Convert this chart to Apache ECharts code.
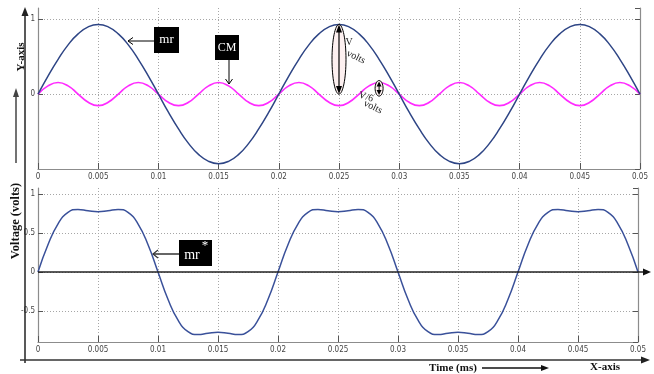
<!DOCTYPE html>
<html><head><meta charset="utf-8">
<script src="https://cdn.jsdelivr.net/npm/echarts@6/dist/echarts.min.js"></script>
<style>html,body{margin:0;padding:0;background:#fff}#c{width:654px;height:374px}</style>
</head><body><div id="c"></div>
<script>
// sample times (s) read along the x axis
const times = [0,0.00083,0.00167,0.0025,0.00333,0.00417,0.005,0.00583,0.00667,0.0075,0.00833,0.00917,
0.01,0.01083,0.01167,0.0125,0.01333,0.01417,0.015,0.01583,0.01667,0.0175,0.01833,0.01917,
0.02,0.02083,0.02167,0.0225,0.02333,0.02417,0.025,0.02583,0.02667,0.0275,0.02833,0.02917,
0.03,0.03083,0.03167,0.0325,0.03333,0.03417,0.035,0.03583,0.03667,0.0375,0.03833,0.03917,
0.04,0.04083,0.04167,0.0425,0.04333,0.04417,0.045,0.04583,0.04667,0.0475,0.04833,0.04917,0.05];
// top: modulating reference "mr"
const mr = [0,0.241,0.465,0.658,0.805,0.898,0.93,0.898,0.805,0.658,0.465,0.241,
0,-0.241,-0.465,-0.658,-0.805,-0.898,-0.93,-0.898,-0.805,-0.658,-0.465,-0.241,
0,0.241,0.465,0.658,0.805,0.898,0.93,0.898,0.805,0.658,0.465,0.241,
0,-0.241,-0.465,-0.658,-0.805,-0.898,-0.93,-0.898,-0.805,-0.658,-0.465,-0.241,
0,0.241,0.465,0.658,0.805,0.898,0.93,0.898,0.805,0.658,0.465,0.241,0];
// top: common-mode "CM"
const cm = [0,0.11,0.155,0.11,0,-0.11,-0.155,-0.11,
0,0.11,0.155,0.11,0,-0.11,-0.155,-0.11,
0,0.11,0.155,0.11,0,-0.11,-0.155,-0.11,
0,0.11,0.155,0.11,0,-0.11,-0.155,-0.11,
0,0.11,0.155,0.11,0,-0.11,-0.155,-0.11,
0,0.11,0.155,0.11,0,-0.11,-0.155,-0.11,
0,0.11,0.155,0.11,0,-0.11,-0.155,-0.11,
0,0.11,0.155,0.11,0];
// bottom: "mr*"
const mrStar = [0,0.351,0.62,0.768,0.805,0.788,0.775,0.788,0.805,0.768,0.62,0.351,
0,-0.351,-0.62,-0.768,-0.805,-0.788,-0.775,-0.788,-0.805,-0.768,-0.62,-0.351,
0,0.351,0.62,0.768,0.805,0.788,0.775,0.788,0.805,0.768,0.62,0.351,
0,-0.351,-0.62,-0.768,-0.805,-0.788,-0.775,-0.788,-0.805,-0.768,-0.62,-0.351,
0,0.351,0.62,0.768,0.805,0.788,0.775,0.788,0.805,0.768,0.62,0.351,0];
const topYTicks = [-1, 0, 1];
const bottomYTicks = [-0.5, 0, 0.5, 1];

const tickFont = "'Liberation Sans Narrow','DejaVu Sans Condensed',sans-serif";
const serif = "'Liberation Serif','DejaVu Serif',serif";
const gridStyle = {color:'#a6a6a6', type:[1,2], width:1};

function xAx(g){
  return {type:'value', gridIndex:g, min:0, max:0.05, interval:0.005, position:'bottom',
    axisLine:{onZero:false, lineStyle:{color:'#8c8c8c', width:1.2}},
    axisTick:{inside:true, length:6, lineStyle:{color:'#555'}},
    axisLabel:{fontSize:8, color:'#444', fontFamily:tickFont, margin:4},
    splitLine:{show:true, showMinLine:false, showMaxLine:false, lineStyle:gridStyle}};
}
function yAx(g, min, max, ticks, extra){
  return Object.assign({type:'value', gridIndex:g, min:min, max:max, position:'left',
    axisLine:{show:true, onZero:false, lineStyle:{color:'#8c8c8c', width:1.2}},
    axisTick:{show:true, inside:true, length:5, lineStyle:{color:'#555'}},
    axisLabel:{fontSize:8, color:'#444', fontFamily:tickFont, margin:3, showMinLabel:false, showMaxLabel:false,
      formatter: v => ticks.some(t => Math.abs(t - v) < 1e-9) ? String(v) : ''},
    splitLine:{show:true, showMinLine:false, showMaxLine:false, lineStyle:gridStyle}}, extra||{});
}
function yRight(g, min, max, extra){
  return Object.assign({type:'value', gridIndex:g, min:min, max:max, position:'right',
    axisLine:{show:true, onZero:false, lineStyle:{color:'#8c8c8c', width:1.2}},
    axisTick:{show:true, inside:true, length:5, lineStyle:{color:'#555'}},
    axisLabel:{show:false}, splitLine:{show:false}}, extra||{});
}

const chart = echarts.init(document.getElementById('c'), null, {renderer:'canvas'});
chart.setOption({
  backgroundColor:'#fff',
  animation:false,
  grid:[{left:38, right:14, top:8, height:161}, {left:38, right:16, top:188, height:154}],
  xAxis:[xAx(0), xAx(1)],
  yAxis:[
    yAx(0, -1, 1.15, topYTicks, {interval:1}),
    yRight(0, -1, 1.15, {interval:1}),
    yAx(1, -0.9, 1.08, bottomYTicks, {splitNumber:4}),
    yRight(1, -0.9, 1.08, {splitNumber:4})
  ],
  series:[
    {type:'line', xAxisIndex:0, yAxisIndex:0, data: times.map((t,i)=>[t, cm[i]]), smooth:true, symbol:'none',
      lineStyle:{color:'#ff2bff', width:1.7}, z:2},
    {type:'line', xAxisIndex:0, yAxisIndex:0, data: times.map((t,i)=>[t, mr[i]]), smooth:true, symbol:'none',
      lineStyle:{color:'#2e4585', width:1.5}, z:3},
    {type:'line', xAxisIndex:1, yAxisIndex:2, data: times.map((t,i)=>[t, mrStar[i]]), smooth:true, symbol:'none',
      lineStyle:{color:'#3a519a', width:1.5}, z:3}
  ]
});

function P(g, x, y){ return chart.convertToPixel(g===0?{xAxisIndex:0,yAxisIndex:0}:{xAxisIndex:1,yAxisIndex:2}, [x,y]); }
const G = [];
function line(x1,y1,x2,y2,c,w){ G.push({type:'line', z:10, shape:{x1,y1,x2,y2}, style:{stroke:c||'#000', lineWidth:w||1}}); }
function tri(pts,c){ G.push({type:'polygon', z:11, shape:{points:pts}, style:{fill:c||'#000'}}); }
function open(pts,c,w){ G.push({type:'polyline', z:11, shape:{points:pts}, style:{stroke:c||'#000', fill:null, lineWidth:w||1}}); }
function txt(x,y,s,font,fill,rot,align){ G.push({type:'text', z:12, x:x, y:y, rotation:rot||0,
  style:{text:s, font:font, fill:fill||'#000', textAlign:align||'center', textVerticalAlign:'middle'}}); }

// outer axes
line(25, 363, 25, 14, '#222', 1.5); tri([[25,7],[21.5,16],[28.5,16]], '#222');
line(20, 360, 642, 360, '#333', 1.5); tri([[650,360],[641,356.5],[641,363.5]], '#222');
line(16, 163, 16, 96, '#444', 1.5); tri([[16,88],[13,97],[19,97]], '#444');
txt(21, 57, 'Y-axis', 'bold 11px '+serif, '#111', Math.PI/2);
txt(16, 221, 'Voltage (volts)', 'bold 12.5px '+serif, '#111', Math.PI/2);
txt(453, 368, 'Time (ms)', 'bold 11px '+serif, '#111');
line(482, 368, 542, 368, '#111', 1.3); tri([[549,368],[541,365],[541,371]], '#111');
txt(605, 367, 'X-axis', 'bold 11px '+serif, '#111');

// zero line of bottom plot
const z0 = P(1, 0, 0);
line(z0[0], z0[1], 643, z0[1], '#222', 1.5); tri([[651,z0[1]],[643,z0[1]-3.5],[643,z0[1]+3.5]], '#111');

// V volts ellipse
const a0 = P(0, 0.025, 0), a1 = P(0, 0.025, 0.93);
G.push({type:'ellipse', z:9, shape:{cx:a0[0], cy:(a0[1]+a1[1])/2, rx:7, ry:(a0[1]-a1[1])/2}, style:{fill:'#fdf0f0', stroke:'#000', lineWidth:1}});
line(a0[0], a1[1]+6, a0[0], a0[1]-6, '#000', 1.2);
tri([[a0[0],a1[1]],[a0[0]-3,a1[1]+8],[a0[0]+3,a1[1]+8]]);
tri([[a0[0],a0[1]],[a0[0]-3,a0[1]-8],[a0[0]+3,a0[1]-8]]);
txt(349, 42, 'V', '10px '+serif, '#222');
txt(356, 57, 'volts', '10px '+serif, '#222', -0.45);
// V/6 ellipse
const b0 = P(0, 0.02833, 0), b1 = P(0, 0.02833, 0.155);
G.push({type:'ellipse', z:9, shape:{cx:b0[0], cy:(b0[1]+b1[1])/2, rx:4, ry:(b0[1]-b1[1])/2+2}, style:{fill:'#fdf0f0', stroke:'#000', lineWidth:1}});
line(b0[0], b1[1]+3, b0[0], b0[1]-3, '#000', 1);
tri([[b0[0],b1[1]-1],[b0[0]-2.5,b1[1]+4],[b0[0]+2.5,b1[1]+4]]);
tri([[b0[0],b0[1]+1],[b0[0]-2.5,b0[1]-4],[b0[0]+2.5,b0[1]-4]]);
txt(366, 97, 'V/6', '10px '+serif, '#222', -0.3);
txt(373, 107, 'volts', '10px '+serif, '#222', -0.45);

// mr label
G.push({type:'rect', z:10, shape:{x:154, y:27, width:25, height:26}, style:{fill:'#000'}});
txt(166.5, 40, 'mr', '13px '+serif, '#fff');
line(154, 41, 128, 41, '#000', 1); open([[133,37.5],[128,41],[133,44.5]]);
// CM label
G.push({type:'rect', z:10, shape:{x:215, y:35, width:24, height:25}, style:{fill:'#000'}});
txt(227, 48, 'CM', '12px '+serif, '#fff');
line(229, 60, 229, 84, '#000', 1); open([[225.5,79],[229,84],[232.5,79]]);
// mr* label
G.push({type:'rect', z:10, shape:{x:179, y:240, width:33, height:26}, style:{fill:'#000'}});
txt(192, 255, 'mr', '14px '+serif, '#fff');
txt(205, 246, '*', '13px '+serif, '#fff');
line(179, 254, 153, 254, '#555', 1.8); open([[158,250],[153,254],[158,258]], '#333', 1.2);

chart.setOption({graphic: G});
</script></body></html>
